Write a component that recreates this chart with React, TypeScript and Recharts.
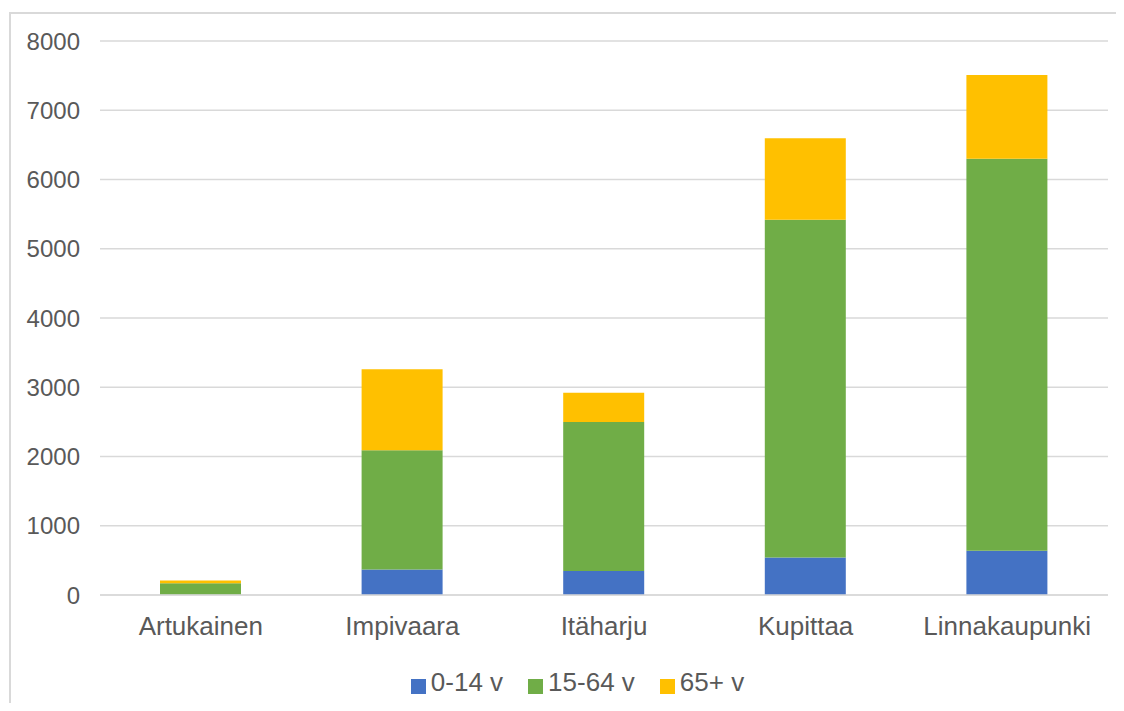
import { BarChart, Bar, XAxis, YAxis, CartesianGrid, Legend } from 'recharts';

const districts = ['Artukainen', 'Impivaara', 'Itäharju', 'Kupittaa', 'Linnakaupunki'];
const age0to14 = [5, 370, 345, 540, 640];
const age15to64 = [165, 1720, 2155, 4880, 5660];
const age65plus = [40, 1170, 420, 1175, 1210];
const yTicks = [0, 1000, 2000, 3000, 4000, 5000, 6000, 7000, 8000];

const data = districts.map((name, i) => ({
  name,
  a: age0to14[i],
  b: age15to64[i],
  c: age65plus[i],
}));

const font = 'Liberation Sans, Arial, sans-serif';
const textColor = '#595959';

export default function App() {
  return (
    <div style={{ margin: -8, position: 'relative', width: 1124, height: 711, background: '#fff', overflow: 'hidden', fontFamily: font }}>
      <div
        style={{
          position: 'absolute',
          left: 9,
          top: 12,
          width: 1200,
          height: 800,
          borderLeft: '2px solid #d9d9d9',
          borderTop: '2px solid #d9d9d9',
        }}
      />
      <div style={{ position: 'absolute', left: 0, top: 0 }}>
        <BarChart
          width={1124}
          height={711}
          data={data}
          margin={{ top: 41, right: 16, left: 0, bottom: 0 }}
          barSize={81}
        >
          <CartesianGrid vertical={false} stroke="#d9d9d9" strokeWidth={1.5} />
          <XAxis
            dataKey="name"
            axisLine={{ stroke: '#d9d9d9', strokeWidth: 1.5 }}
            tickLine={false}
            tickMargin={16}
            height={86}
            tick={{ fill: textColor, fontSize: 26, fontFamily: font }}
          />
          <YAxis
            width={100}
            domain={[0, 8000]}
            ticks={yTicks}
            axisLine={false}
            tickLine={false}
            tickSize={0}
            tickMargin={20}
            tick={{ fill: textColor, fontSize: 24, fontFamily: font }}
          />
          <Legend
            iconType="square"
            iconSize={15}
            wrapperStyle={{ top: 667, left: 12, width: 1156, height: 30, lineHeight: '30px' }}
            formatter={(value) => (
              <span style={{ color: textColor, fontSize: 26, fontFamily: font, marginLeft: 1, marginRight: 15 }}>{value}</span>
            )}
          />
          <Bar dataKey="a" name="0-14 v" stackId="s" fill="#4472c4" isAnimationActive={false} />
          <Bar dataKey="b" name="15-64 v" stackId="s" fill="#70ad47" isAnimationActive={false} />
          <Bar dataKey="c" name="65+ v" stackId="s" fill="#ffc000" isAnimationActive={false} />
        </BarChart>
      </div>
    </div>
  );
}
